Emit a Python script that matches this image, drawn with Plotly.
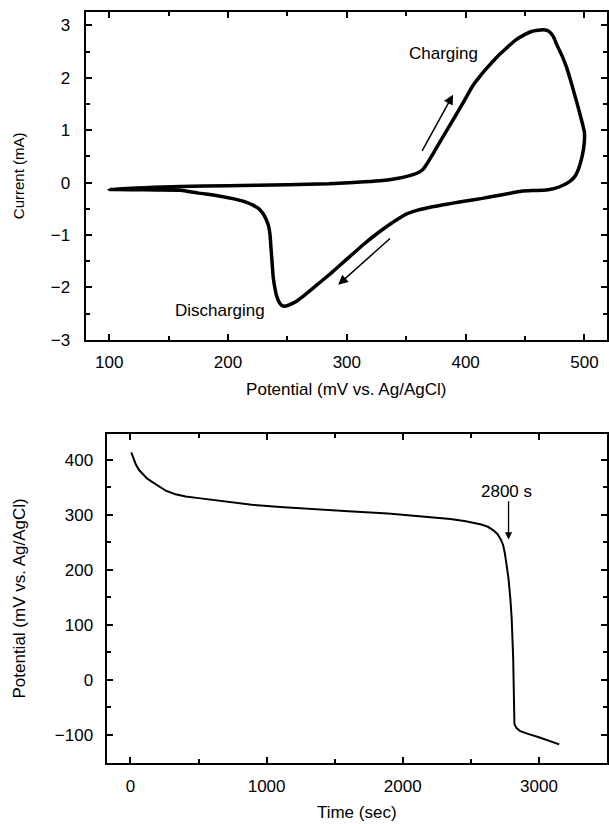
import plotly.graph_objects as go

# ---- Cyclic voltammogram (top) ----
cv_potential_mV = [100, 115, 130, 145, 160, 200, 250, 285, 302, 315, 330, 342, 352, 359, 364, 368,
                   372, 380, 390, 398, 406, 412, 418, 426, 434, 442, 450, 456, 461, 465, 468, 471,
                   474, 477, 481, 485, 489, 493, 496, 498.6, 500, 500, 499.2, 497.5, 495, 492, 488,
                   482, 475, 468, 458, 448, 438, 426, 414, 400, 387, 372, 359, 350, 344, 336, 325,
                   314, 300, 286, 276, 266, 258, 252, 248, 245, 243, 241, 239.5, 238, 237, 236,
                   235.3, 234, 232, 229.7, 226, 221, 215, 205, 190, 175, 160, 140, 120, 100]
cv_current_mA = [-0.13, -0.11, -0.095, -0.082, -0.072, -0.06, -0.04, -0.02, 0.0, 0.015, 0.04, 0.08,
                 0.13, 0.18, 0.25, 0.38, 0.53, 0.84, 1.22, 1.53, 1.85, 2.03, 2.19, 2.39, 2.56, 2.72,
                 2.83, 2.89, 2.91, 2.92, 2.91, 2.87, 2.78, 2.62, 2.43, 2.2, 1.9, 1.58, 1.33, 1.1,
                 0.96, 0.8, 0.64, 0.45, 0.26, 0.12, 0.03, -0.05, -0.11, -0.14, -0.15, -0.16, -0.2,
                 -0.25, -0.3, -0.35, -0.4, -0.46, -0.53, -0.6, -0.68, -0.8, -0.98, -1.18, -1.46,
                 -1.74, -1.93, -2.12, -2.26, -2.33, -2.36, -2.34, -2.28, -2.17, -2.02, -1.8, -1.5,
                 -1.2, -0.99, -0.82, -0.7, -0.6, -0.5, -0.43, -0.37, -0.31, -0.245, -0.2, -0.145,
                 -0.14, -0.135, -0.13]

# ---- Discharge curve (bottom) ----
time_s = [6, 20, 40, 63, 90, 120, 150, 177, 210, 263, 330, 406, 500, 606, 750, 891, 1100, 1320,
          1600, 1891, 2177, 2350, 2463, 2530, 2577, 2625, 2663, 2695, 2720, 2737, 2749, 2763, 2777,
          2790, 2800, 2811, 2816, 2820, 2834, 2863, 2920, 3000, 3149]
potential_mV = [413, 403, 391, 381, 373, 366, 361, 357, 351, 343, 337, 333, 330, 327, 322, 318, 314,
                310, 306, 302, 296, 292, 288, 285, 282, 278, 272, 265, 255, 245, 231, 208, 183, 148,
                111, 39, -28, -80, -87, -93, -98, -104, -117]

cv_x_ticks = [100, 200, 300, 400, 500]
cv_y_ticks = [-3, -2, -1, 0, 1, 2, 3]
t_x_ticks = [0, 1000, 2000, 3000]
t_y_ticks = [-100, 0, 100, 200, 300, 400]

FONT = "Liberation Sans, Arial, sans-serif"

fig = go.Figure()
fig.add_trace(go.Scatter(x=cv_potential_mV, y=cv_current_mA, mode="lines",
                         line=dict(color="black", width=3.5, shape="spline", smoothing=0.4),
                         xaxis="x", yaxis="y", showlegend=False))
fig.add_trace(go.Scatter(x=time_s, y=potential_mV, mode="lines",
                         line=dict(color="black", width=2),
                         xaxis="x2", yaxis="y2", showlegend=False))

common = dict(showline=True, linewidth=2, linecolor="black", mirror="ticks", ticks="inside",
              ticklen=6, tickwidth=1.5, tickcolor="black", showgrid=False, zeroline=False,
              tickfont=dict(family=FONT, size=17, color="black"))

W, H = 609, 824
fig.update_layout(
    width=W, height=H, margin=dict(l=0, r=0, t=0, b=0),
    paper_bgcolor="white", plot_bgcolor="white",
    font=dict(family=FONT, color="black"),
    xaxis=dict(domain=[85.5 / W, 607 / W], anchor="y", range=[80, 519],
               tickvals=cv_x_ticks, ticklabelstandoff=6,
               minor=dict(dtick=50, tick0=0, ticks="inside", ticklen=4, tickcolor="black"),
               title=dict(text="Potential (mV vs. Ag/AgCl)", font=dict(size=17), standoff=12),
               **common),
    yaxis=dict(domain=[1 - 344 / H, 1 - 12 / H], anchor="x", range=[-3, 3.26],
               tickvals=cv_y_ticks, ticklabelstandoff=10,
               minor=dict(dtick=0.5, tick0=0, ticks="inside", ticklen=4, tickcolor="black"),
               title=dict(text="Current (mA)", font=dict(size=15), standoff=22),
               **common),
    xaxis2=dict(domain=[106.5 / W, 607 / W], anchor="y2", range=[-176, 3500],
                tickvals=t_x_ticks, ticklabelstandoff=6,
                minor=dict(dtick=500, tick0=0, ticks="inside", ticklen=4, tickcolor="black"),
                title=dict(text="Time (sec)", font=dict(size=17), standoff=12),
                **common),
    yaxis2=dict(domain=[1 - 772.5 / H, 1 - 439 / H], anchor="x2", range=[-151, 447],
                tickvals=t_y_ticks, ticklabelstandoff=8,
                minor=dict(dtick=50, tick0=0, ticks="inside", ticklen=4, tickcolor="black"),
                title=dict(text="Potential (mV vs. Ag/AgCl)", font=dict(size=17), standoff=25),
                **common),
)

ann = []
# Charging arrow and label
ann.append(dict(x=389.4, y=1.68, ax=362.7, ay=0.58, xref="x", yref="y", axref="x", ayref="y",
                text="", showarrow=True, arrowhead=2, arrowsize=1.3, arrowwidth=1.5,
                arrowcolor="black"))
ann.append(dict(x=381, y=2.47, xref="x", yref="y", text="Charging", showarrow=False,
                font=dict(size=17, family=FONT)))
# Discharging arrow and label
ann.append(dict(x=292.7, y=-1.95, ax=337.6, ay=-1.04, xref="x", yref="y", axref="x", ayref="y",
                text="", showarrow=True, arrowhead=2, arrowsize=1.3, arrowwidth=1.5,
                arrowcolor="black"))
ann.append(dict(x=193, y=-2.44, xref="x", yref="y", text="Discharging", showarrow=False,
                font=dict(size=17, family=FONT)))
# 2800 s marker
ann.append(dict(x=2777, y=255, ax=2777, ay=327, xref="x2", yref="y2", axref="x2", ayref="y2",
                text="", showarrow=True, arrowhead=2, arrowsize=1.1, arrowwidth=1.3,
                arrowcolor="black"))
ann.append(dict(x=2763, y=342, xref="x2", yref="y2", text="2800 s", showarrow=False,
                font=dict(size=17, family=FONT)))
fig.update_layout(annotations=ann)

fig.write_html("out.html")
